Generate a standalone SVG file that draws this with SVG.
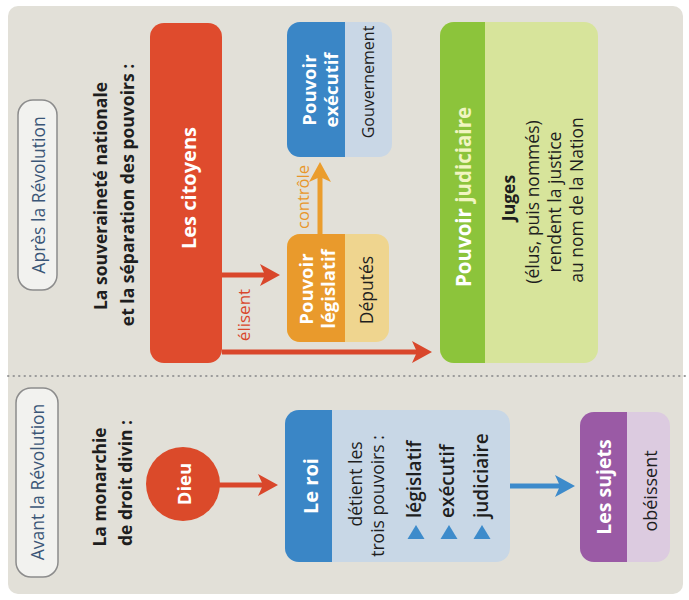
<svg xmlns="http://www.w3.org/2000/svg" width="689" height="600" viewBox="0 0 689 600">
<style>
text{font-family:"Open Sans","Noto Sans","Liberation Sans",sans-serif;text-anchor:middle;dominant-baseline:central;font-weight:500}
.b{font-weight:700}
.w{fill:#ffffff}
.k{fill:#1e1e1e}
.pill{fill:#f2f2ef;stroke:#8c8c8c;stroke-width:1.5}
.pt{fill:#3b5677;font-size:17.5px}
.ttl{font-size:17.5px;font-weight:700;fill:#1e1e1e}
.ar{fill:none;stroke-width:5}
</style>
<defs>
<marker id="mr" markerUnits="userSpaceOnUse" viewBox="0 0 20 22" markerWidth="20" markerHeight="22" refX="8" refY="11" orient="auto"><path d="M0,0 L20,11 L0,22 L5,11 Z" fill="#d9472b"/></marker>
<marker id="mo" markerUnits="userSpaceOnUse" viewBox="0 0 20 22" markerWidth="20" markerHeight="22" refX="8" refY="11" orient="auto"><path d="M0,0 L20,11 L0,22 L5,11 Z" fill="#eb9d2c"/></marker>
<marker id="mb" markerUnits="userSpaceOnUse" viewBox="0 0 20 22" markerWidth="20" markerHeight="22" refX="8" refY="11" orient="auto"><path d="M0,0 L20,11 L0,22 L5,11 Z" fill="#3d8bcb"/></marker>
</defs>
<rect width="689" height="600" fill="#ffffff"/>
<rect x="8" y="6" width="675" height="588" rx="10" fill="#e2e0d8"/>
<line x1="8" y1="376" x2="689" y2="376" stroke="#9a9a9a" stroke-width="2" stroke-linecap="round" stroke-dasharray="0.5 5"/>

<g id="label-apres">
<rect class="pill" x="18" y="100" width="39" height="190" rx="15"/>
<text class="pt" transform="rotate(-90 38 195)" x="38" y="195">Après la Révolution</text>
</g>
<g id="label-avant">
<rect class="pill" x="16" y="388" width="42" height="189" rx="15"/>
<text class="pt" transform="rotate(-90 37 482)" x="37" y="482">Avant la Révolution</text>
</g>
<g id="title-apres">
<text class="ttl" transform="rotate(-90 100 196)" x="100" y="196">La souveraineté nationale</text>
<text class="ttl" transform="rotate(-90 127 195)" x="127" y="195">et la séparation des pouvoirs :</text>
</g>
<g id="title-avant">
<text class="ttl" transform="rotate(-90 99 487)" x="99" y="487">La monarchie</text>
<text class="ttl" transform="rotate(-90 125 483)" x="125" y="483">de droit divin :</text>
</g>

<g id="connectors">
<path class="ar" d="M222,275 H268" stroke="#d9472b" marker-end="url(#mr)"/>
<path class="ar" d="M222,352 H420" stroke="#d9472b" marker-end="url(#mr)"/>
<path class="ar" d="M320,234 V174" stroke="#eb9d2c" marker-end="url(#mo)"/>
<path class="ar" d="M218,485 H266" stroke="#d9472b" marker-end="url(#mr)"/>
<path class="ar" d="M510,486 H563" stroke="#3d8bcb" marker-end="url(#mb)"/>
<text transform="rotate(-90 243 315)" x="243" y="315" style="font-size:17px;fill:#d9472b">élisent</text>
<text transform="rotate(-90 302 197)" x="302" y="197" style="font-size:16.5px;fill:#e8962a">contrôle</text>
</g>

<g id="citoyens">
<rect x="150" y="23" width="72" height="340" rx="14" fill="#df4b2d"/>
<text class="b w" transform="rotate(-90 188 188)" x="188" y="188" style="font-size:20px">Les citoyens</text>
</g>

<g id="executif">
<rect x="287" y="22" width="105" height="135" rx="13" fill="#c9d7e6"/>
<path d="M300,22 H345 V157 H300 A13,13 0 0 1 287,144 V35 A13,13 0 0 1 300,22 Z" fill="#3a86c6"/>
<text class="b w" transform="rotate(-90 308 90)" x="308" y="90" style="font-size:18.5px">Pouvoir</text>
<text class="b w" transform="rotate(-90 330 90)" x="330" y="90" style="font-size:18.5px">exécutif</text>
<text class="k" transform="rotate(-90 368 82)" x="368" y="82" style="font-size:16px">Gouvernement</text>
</g>

<g id="legislatif">
<rect x="287" y="234" width="102" height="108" rx="13" fill="#efd58f"/>
<path d="M300,234 H345 V342 H300 A13,13 0 0 1 287,329 V247 A13,13 0 0 1 300,234 Z" fill="#e99a2c"/>
<text class="b w" transform="rotate(-90 305 289)" x="305" y="289" style="font-size:18.5px">Pouvoir</text>
<text class="b w" transform="rotate(-90 327 289)" x="327" y="289" style="font-size:18.5px">législatif</text>
<text class="k" transform="rotate(-90 366 290)" x="366" y="290" style="font-size:17.5px">Députés</text>
</g>

<g id="judiciaire">
<rect x="440" y="22" width="158" height="341" rx="14" fill="#d7e49b"/>
<path d="M454,22 H485 V363 H454 A14,14 0 0 1 440,349 V36 A14,14 0 0 1 454,22 Z" fill="#8cc43b"/>
<text class="b" transform="rotate(-90 463 197)" x="463" y="197" style="font-size:20.5px;fill:#ffffff">Pouvoir <tspan fill="#f1f5c2">judiciaire</tspan></text>
<text class="b k" transform="rotate(-90 508 198)" x="508" y="198" style="font-size:17.5px">Juges</text>
<text class="k" transform="rotate(-90 532 202)" x="532" y="202" style="font-size:17.5px">(élus, puis nommés)</text>
<text class="k" transform="rotate(-90 554 202)" x="554" y="202" style="font-size:17.5px">rendent la justice</text>
<text class="k" transform="rotate(-90 576 200)" x="576" y="200" style="font-size:17.5px">au nom de la Nation</text>
</g>

<g id="dieu">
<circle cx="183" cy="484" r="37" fill="#db4a2a"/>
<text class="b w" transform="rotate(-90 183 484)" x="183" y="484" style="font-size:18.5px">Dieu</text>
</g>

<g id="roi">
<rect x="285" y="410" width="225" height="152" rx="14" fill="#c8d7e6"/>
<path d="M299,410 H332 V562 H299 A14,14 0 0 1 285,548 V424 A14,14 0 0 1 299,410 Z" fill="#3a86c6"/>
<text class="b w" transform="rotate(-90 310 486)" x="310" y="486" style="font-size:20px">Le roi</text>
<text class="k" transform="rotate(-90 355 484)" x="355" y="484" style="font-size:17.5px">détient les</text>
<text class="k" transform="rotate(-90 377 496)" x="377" y="496" style="font-size:17.5px">trois pouvoirs :</text>
<polygon points="416,525 424.5,539 407.5,539" fill="#3d8bcb"/>
<polygon points="449,525 457.5,539 440.5,539" fill="#3d8bcb"/>
<polygon points="482,525 490.5,539 473.5,539" fill="#3d8bcb"/>
<text class="k" transform="rotate(-90 414 518)" x="414" y="518" style="font-size:19px;font-weight:600;text-anchor:start">législatif</text>
<text class="k" transform="rotate(-90 447 518)" x="447" y="518" style="font-size:19px;font-weight:600;text-anchor:start">exécutif</text>
<text class="k" transform="rotate(-90 481 518)" x="481" y="518" style="font-size:19px;font-weight:600;text-anchor:start">judiciaire</text>
</g>

<g id="sujets">
<rect x="580" y="412" width="90" height="150" rx="14" fill="#dccbe0"/>
<path d="M594,412 H627 V562 H594 A14,14 0 0 1 580,548 V426 A14,14 0 0 1 594,412 Z" fill="#9a5aa5"/>
<text class="b w" transform="rotate(-90 603 487)" x="603" y="487" style="font-size:19.5px">Les sujets</text>
<text class="k" transform="rotate(-90 650 491)" x="650" y="491" style="font-size:18px">obéissent</text>
</g>
</svg>
